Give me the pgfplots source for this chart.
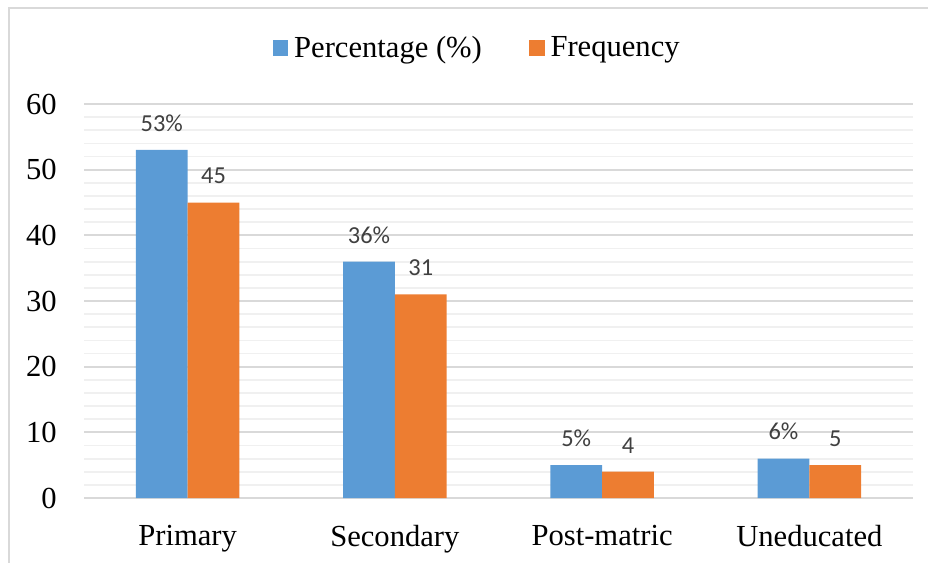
\documentclass[border=0pt]{standalone}
\usepackage{pgfplots}
\pgfplotsset{compat=1.18}
\usepackage{fontspec}
\setmainfont{Liberation Serif}
\newfontfamily\calib{Carlito}
\definecolor{cblue}{HTML}{5B9BD5}
\definecolor{corange}{HTML}{ED7D31}
\definecolor{majgrid}{HTML}{D9D9D9}
\definecolor{mingrid}{HTML}{F0F0F0}
\definecolor{lbl}{HTML}{404040}
\begin{document}
\begin{tikzpicture}
\path[use as bounding box] (0pt,0pt) rectangle (464pt,281.5pt);
\draw[majgrid, line width=1pt] (4.5pt,0pt) -- (4.5pt,277.5pt) -- (464pt,277.5pt);
\begin{axis}[
  at={(42pt,32.5pt)}, anchor=south west,
  scale only axis, width=414.5pt, height=197pt,
  ybar=0pt, bar width=0.25,
  xmin=-0.5, xmax=3.5, ymin=0, ymax=60,
  xtick={0,1,2,3},
  xticklabels={Primary,Secondary,Post-matric,Uneducated},
  ytick={0,10,...,60},
  minor y tick num=4,
  ymajorgrids, yminorgrids,
  major grid style={draw=majgrid, line width=1pt},
  minor grid style={draw=mingrid, line width=0.9pt},
  axis line style={draw=none},
  tick style={draw=none},
  /pgf/number format/assume math mode=true,
  ticklabel style={font=\fontsize{15.3}{18}\selectfont, text=black},
  xticklabel style={inner sep=0pt, anchor=north, yshift=-9pt},
  yticklabel style={inner sep=0pt, anchor=east, xshift=-13.5pt},
  clip=false,
  every node near coord/.append style={anchor=south, inner sep=0pt, yshift=9pt, font=\calib\fontsize{12.2}{14}\selectfont, text=lbl},
  legend columns=2,
  legend style={at={(0.473,1.142)}, anchor=center, draw=none, fill=none,
    font=\fontsize{15.3}{18}\selectfont,
    nodes={inner sep=0pt},
    /tikz/every odd column/.append style={column sep=3pt},
    /tikz/every even column/.append style={column sep=23.5pt}},
  legend image code/.code={\fill[#1] (0pt,-3.9pt) rectangle (7.8pt,3.9pt);},
]
\addplot[fill=cblue, draw=none, nodes near coords={\pgfmathprintnumber{\pgfplotspointmeta}\%}]
  coordinates {(0,53) (1,36) (2,5) (3,6)};
\addplot[fill=corange, draw=none, nodes near coords]
  coordinates {(0,45) (1,31) (2,4) (3,5)};
\legend{Percentage (\%),Frequency}
\end{axis}
\end{tikzpicture}
\end{document}
